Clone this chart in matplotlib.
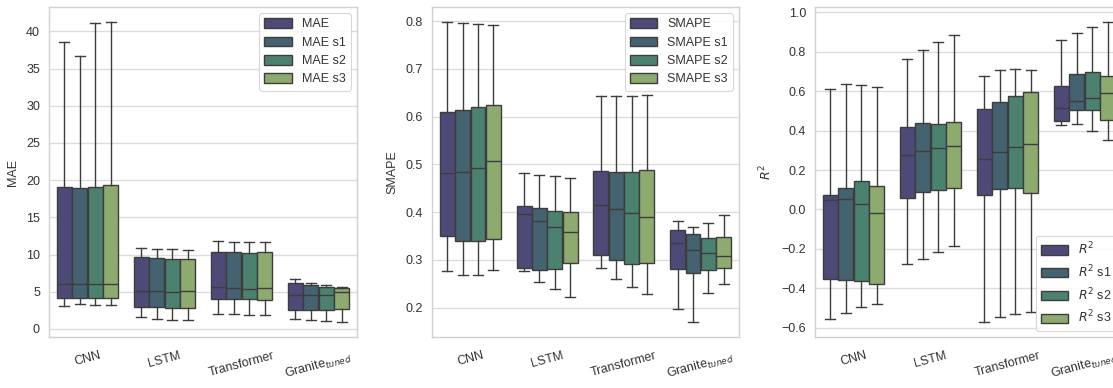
import matplotlib
matplotlib.use("Agg")
import matplotlib.pyplot as plt
from matplotlib.patches import Patch
from matplotlib.ticker import MultipleLocator

# ---- data: rows are model categories, columns are the four series ----
categories = ["CNN", "LSTM", "Transformer", "Granite$_{tuned}$"]
palette = ["#4d4a77", "#456270", "#4b816f", "#8dab6e"]

mae_series = ["MAE", "MAE s1", "MAE s2", "MAE s3"]
mae_whislo = [[3.05, 3.30, 3.20, 3.20], [1.60, 1.40, 1.26, 1.17],
              [2.07, 1.98, 1.89, 1.89], [1.40, 1.17, 1.03, 0.94]]
mae_q1 = [[4.17, 4.10, 4.10, 4.17], [2.96, 2.96, 2.83, 2.83],
          [4.09, 4.04, 4.04, 3.86], [2.55, 2.55, 2.55, 2.65]]
mae_med = [[6.06, 6.06, 6.06, 6.06], [5.16, 5.07, 4.98, 5.16],
           [5.66, 5.52, 5.43, 5.52], [4.62, 4.53, 4.60, 4.98]]
mae_q3 = [[19.10, 19.00, 19.10, 19.35], [9.65, 9.56, 9.43, 9.34],
          [10.37, 10.37, 10.24, 10.37], [6.15, 5.90, 5.65, 5.45]]
mae_whishi = [[38.50, 36.70, 41.10, 41.25], [10.90, 10.80, 10.70, 10.55],
              [11.80, 11.67, 11.67, 11.67], [6.70, 6.20, 5.88, 5.66]]

smape_series = ["SMAPE", "SMAPE s1", "SMAPE s2", "SMAPE s3"]
smape_whislo = [[0.276, 0.269, 0.269, 0.279], [0.277, 0.253, 0.239, 0.222],
                [0.282, 0.259, 0.244, 0.229], [0.197, 0.170, 0.230, 0.249]]
smape_q1 = [[0.350, 0.340, 0.339, 0.343], [0.284, 0.278, 0.280, 0.293],
            [0.311, 0.299, 0.292, 0.294], [0.280, 0.273, 0.279, 0.283]]
smape_med = [[0.481, 0.485, 0.493, 0.507], [0.397, 0.382, 0.369, 0.358],
             [0.415, 0.406, 0.398, 0.390], [0.335, 0.320, 0.314, 0.308]]
smape_q3 = [[0.610, 0.614, 0.620, 0.624], [0.413, 0.408, 0.402, 0.400],
            [0.487, 0.485, 0.485, 0.489], [0.362, 0.355, 0.345, 0.347]]
smape_whishi = [[0.798, 0.795, 0.793, 0.791], [0.481, 0.478, 0.475, 0.471],
                [0.643, 0.643, 0.643, 0.645], [0.381, 0.368, 0.378, 0.393]]

r2_series = ["$R^2$", "$R^2$ s1", "$R^2$ s2", "$R^2$ s3"]
r2_whislo = [[-0.556, -0.525, -0.495, -0.478], [-0.279, -0.251, -0.218, -0.184],
             [-0.571, -0.545, -0.529, -0.520], [0.426, 0.431, 0.399, 0.353]]
r2_q1 = [[-0.353, -0.357, -0.363, -0.377], [0.058, 0.090, 0.101, 0.107],
         [0.073, 0.102, 0.109, 0.085], [0.448, 0.505, 0.507, 0.456]]
r2_med = [[0.046, 0.051, 0.028, -0.020], [0.275, 0.297, 0.312, 0.321],
          [0.256, 0.292, 0.317, 0.331], [0.515, 0.548, 0.563, 0.593]]
r2_q3 = [[0.075, 0.109, 0.143, 0.118], [0.417, 0.439, 0.434, 0.443],
         [0.512, 0.546, 0.578, 0.595], [0.625, 0.688, 0.695, 0.676]]
r2_whishi = [[0.609, 0.634, 0.630, 0.620], [0.765, 0.809, 0.849, 0.885],
             [0.676, 0.708, 0.712, 0.708], [0.859, 0.897, 0.926, 0.951]]

# ---- style ----
plt.rcParams.update({
    "font.family": ["Liberation Sans", "DejaVu Sans"],
    "font.size": 9,
    "text.color": "#333333",
    "axes.labelcolor": "#333333",
    "xtick.color": "#333333",
    "ytick.color": "#333333",
    "axes.edgecolor": "#d0d0d0",
    "axes.linewidth": 1.0,
    "grid.color": "#dcdcdc",
    "grid.linewidth": 1.0,
})

EDGE = "#3d3d3d"
LW = 1.0
W, H = 1113, 388
fig = plt.figure(figsize=(W / 100, H / 100), dpi=100)


def px_axes(left, right, top, bottom):
    return fig.add_axes([left / W, 1 - bottom / H, (right - left) / W, (bottom - top) / H])


def draw_panel(ax, series, whislo, q1, med, q3, whishi, ylabel, step, legend_loc):
    n = len(series)
    width = 0.8 / n
    offsets = [(-0.4 + width / 2 + j * width) for j in range(n)]
    for j in range(n):
        stats = []
        for i in range(len(categories)):
            stats.append({"whislo": whislo[i][j], "q1": q1[i][j], "med": med[i][j],
                          "q3": q3[i][j], "whishi": whishi[i][j], "fliers": []})
        positions = [i + offsets[j] for i in range(len(categories))]
        ax.bxp(stats, positions=positions, widths=width * 0.97, capwidths=width * 0.65,
               patch_artist=True, showfliers=False, manage_ticks=False,
               boxprops=dict(facecolor=palette[j], edgecolor=EDGE, linewidth=LW),
               medianprops=dict(color=EDGE, linewidth=LW),
               whiskerprops=dict(color=EDGE, linewidth=LW),
               capprops=dict(color=EDGE, linewidth=LW), zorder=3)
    lo = min(min(r) for r in whislo)
    hi = max(max(r) for r in whishi)
    pad = (hi - lo) * 0.05
    ax.set_ylim(lo - pad, hi + pad)
    ax.set_xlim(-0.5, len(categories) - 0.5)
    ax.set_xticks(range(len(categories)))
    ax.set_xticklabels(categories, rotation=15)
    ax.yaxis.set_major_locator(MultipleLocator(step))
    ax.tick_params(axis="x", length=0, pad=9)
    ax.tick_params(axis="y", length=0, pad=6.5)
    ax.grid(axis="y", zorder=0)
    ax.grid(axis="x", visible=False)
    ax.set_axisbelow(True)
    ax.set_ylabel(ylabel, labelpad=5)
    handles = [Patch(facecolor=palette[j], edgecolor=EDGE, linewidth=LW, label=series[j])
               for j in range(n)]
    leg = ax.legend(handles=handles, loc=legend_loc, handlelength=2.2, handleheight=0.8,
                    fancybox=True, framealpha=0.85, edgecolor="#d0d0d0")
    leg.get_frame().set_linewidth(0.8)


ax1 = px_axes(49, 357, 7, 337)
draw_panel(ax1, mae_series, mae_whislo, mae_q1, mae_med, mae_q3, mae_whishi,
           "MAE", 5, "upper right")

ax2 = px_axes(432, 739, 7, 337)
draw_panel(ax2, smape_series, smape_whislo, smape_q1, smape_med, smape_q3, smape_whishi,
           "SMAPE", 0.1, "upper right")

ax3 = px_axes(815, 1123, 7, 337)
draw_panel(ax3, r2_series, r2_whislo, r2_q1, r2_med, r2_q3, r2_whishi,
           "$R^2$", 0.2, "lower right")

fig.savefig("out.png", dpi=100)
